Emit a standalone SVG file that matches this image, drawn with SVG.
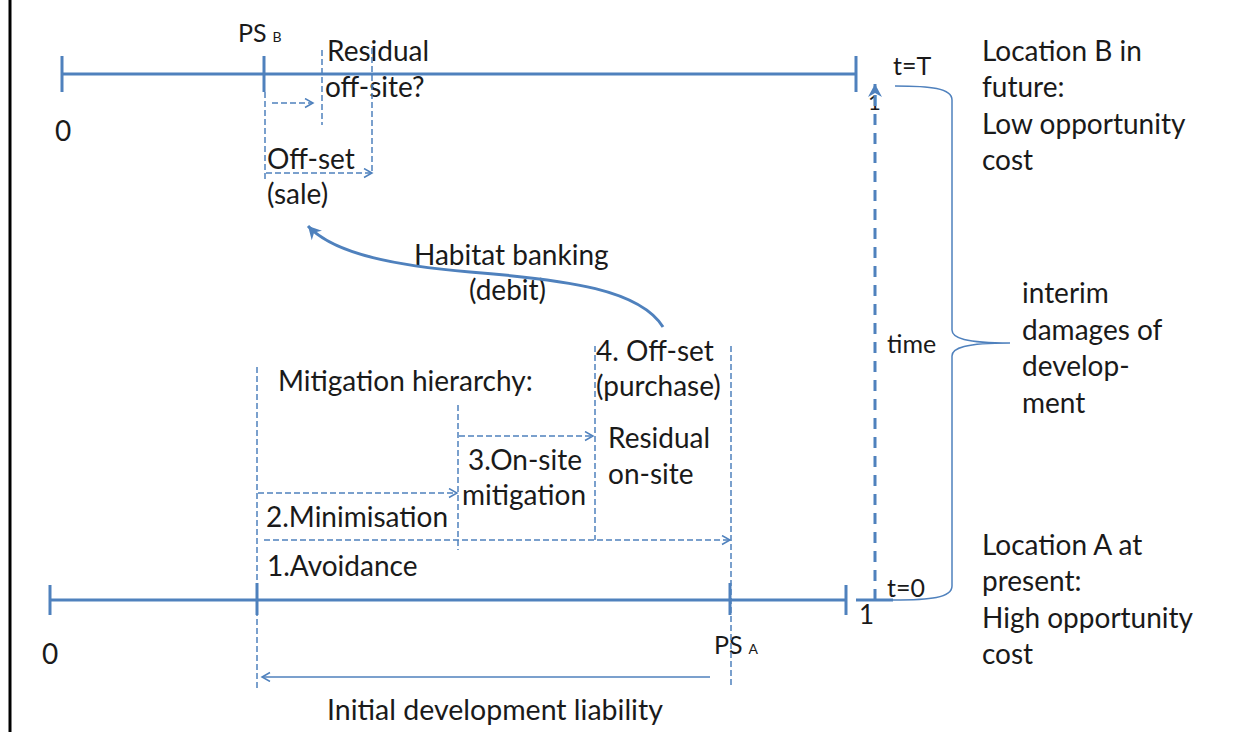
<svg xmlns="http://www.w3.org/2000/svg" width="1240" height="732" viewBox="0 0 1240 732">
<style>
text{font-family:Lato,"Liberation Sans",sans-serif;font-size:28px;fill:#1a1a1a}
text.sm{font-size:25px}
tspan.sub{font-size:14px}
.ax{stroke:#4F81BD;stroke-width:3;fill:none}
.dash{stroke:#4F81BD;stroke-width:1.5;stroke-dasharray:6 3;fill:none}
.thin{stroke:#4F81BD;stroke-width:1.5;fill:none}
</style>
<defs>
<marker id="chev" markerUnits="userSpaceOnUse" markerWidth="12" markerHeight="12" refX="9" refY="5" orient="auto">
<path d="M1,0.5 L9,5 L1,9.5" fill="none" stroke="#4F81BD" stroke-width="1.5"/>
</marker>
<marker id="big" markerUnits="userSpaceOnUse" markerWidth="20" markerHeight="20" refX="14" refY="8" orient="auto">
<path d="M1,1 L14,8 L1,15 L5,8 Z" fill="#4F81BD"/>
</marker>
</defs>
<rect width="1240" height="732" fill="#fff"/>
<line x1="10" y1="0" x2="10" y2="732" stroke="#000" stroke-width="3"/>

<g id="axis-top">
<line class="ax" x1="62" y1="74" x2="856" y2="74"/>
<line class="ax" x1="62" y1="56" x2="62" y2="92"/>
<line class="ax" x1="264" y1="56" x2="264" y2="92"/>
<line class="ax" x1="856" y1="56" x2="856" y2="92"/>
<text x="55" y="141">0</text>
<text class="sm" x="238" y="42">PS<tspan class="sub" dx="6">B</tspan></text>
</g>

<g id="axis-bottom">
<line class="ax" x1="50" y1="600" x2="846" y2="600"/>
<line class="ax" x1="50" y1="585" x2="50" y2="615"/>
<line class="ax" x1="257" y1="583" x2="257" y2="615"/>
<line class="ax" x1="730" y1="583" x2="730" y2="615"/>
<line class="ax" x1="846" y1="585" x2="846" y2="615"/>
<text x="42" y="664">0</text>
<text class="sm" x="714" y="654">PS<tspan class="sub" dx="6">A</tspan></text>
</g>

<g id="offsite-b">
<text x="327" y="61">Residual</text>
<text x="325" y="97">off-site?</text>
<text x="267" y="169">Off-set</text>
<text x="267" y="204">(sale)</text>
</g>

<g id="mitigation">
<text x="278" y="391">Mitigation hierarchy:</text>
<text x="596" y="361">4. Off-set</text>
<text x="596" y="396">(purchase)</text>
<text x="608" y="448">Residual</text>
<text x="608" y="484">on-site</text>
<text x="468" y="470">3.On-site</text>
<text x="462" y="505">mitigation</text>
<text x="266" y="527">2.Minimisation</text>
<text x="267" y="576">1.Avoidance</text>
<text x="327" y="720" style="font-size:28.5px">Initial development liability</text>
</g>

<g id="habitat-banking">
<text x="414" y="265">Habitat banking</text>
<text x="469" y="300">(debit)</text>
</g>

<g id="time-axis">
<text class="sm" x="893" y="75">t=T</text>
<text x="868" y="110" style="font-size:22px">1</text>
<text class="sm" x="887" y="353">time</text>
<text class="sm" x="887" y="597">t=0</text>
<text x="859" y="624" style="font-size:26px">1</text>
</g>

<g id="location-b">
<text x="982" y="61">Location B in</text>
<text x="982" y="97">future:</text>
<text x="982" y="134">Low opportunity</text>
<text x="982" y="170">cost</text>
</g>

<g id="interim">
<text x="1022" y="303">interim</text>
<text x="1022" y="340">damages of</text>
<text x="1022" y="376">develop-</text>
<text x="1022" y="413">ment</text>
</g>

<g id="location-a">
<text x="982" y="555">Location A at</text>
<text x="982" y="591">present:</text>
<text x="982" y="628">High opportunity</text>
<text x="982" y="664">cost</text>
</g>

<g id="connectors">
<line class="dash" x1="265" y1="92" x2="265" y2="182"/>
<line class="dash" x1="322" y1="50" x2="322" y2="125"/>
<line class="dash" x1="372" y1="48" x2="372" y2="173"/>
<line class="dash" x1="272" y1="103" x2="313" y2="103" marker-end="url(#chev)"/>
<line class="dash" x1="266" y1="173" x2="372" y2="173" marker-end="url(#chev)"/>
<line class="dash" x1="257" y1="367" x2="257" y2="688"/>
<line class="dash" x1="258" y1="493" x2="457" y2="493" marker-end="url(#chev)"/>
<line class="dash" x1="458" y1="405" x2="458" y2="550"/>
<line class="dash" x1="459" y1="436" x2="593" y2="436" marker-end="url(#chev)"/>
<line class="dash" x1="595" y1="346" x2="595" y2="540"/>
<line class="dash" x1="264" y1="540" x2="730" y2="540" marker-end="url(#chev)"/>
<line class="dash" x1="731" y1="346" x2="731" y2="688"/>
<line class="thin" x1="710" y1="677" x2="262" y2="677" marker-end="url(#chev)"/>
<path class="ax" d="M663,327 C640,290 570,280 470,272 C400,266 335,255 308,226" marker-end="url(#big)"/>
<line x1="875" y1="600" x2="875" y2="84" stroke="#4F81BD" stroke-width="3" stroke-dasharray="11 8" marker-end="url(#big)"/>
<line class="ax" x1="856" y1="600" x2="893" y2="600" stroke-width="2.5"/>
<path class="thin" d="M895,86 C930,86 952,88 952,100 L952,330 C952,338 965,343 1010,343 C965,343 952,348 952,356 L952,586 C952,598 930,600 893,600"/>
</g>
</svg>
